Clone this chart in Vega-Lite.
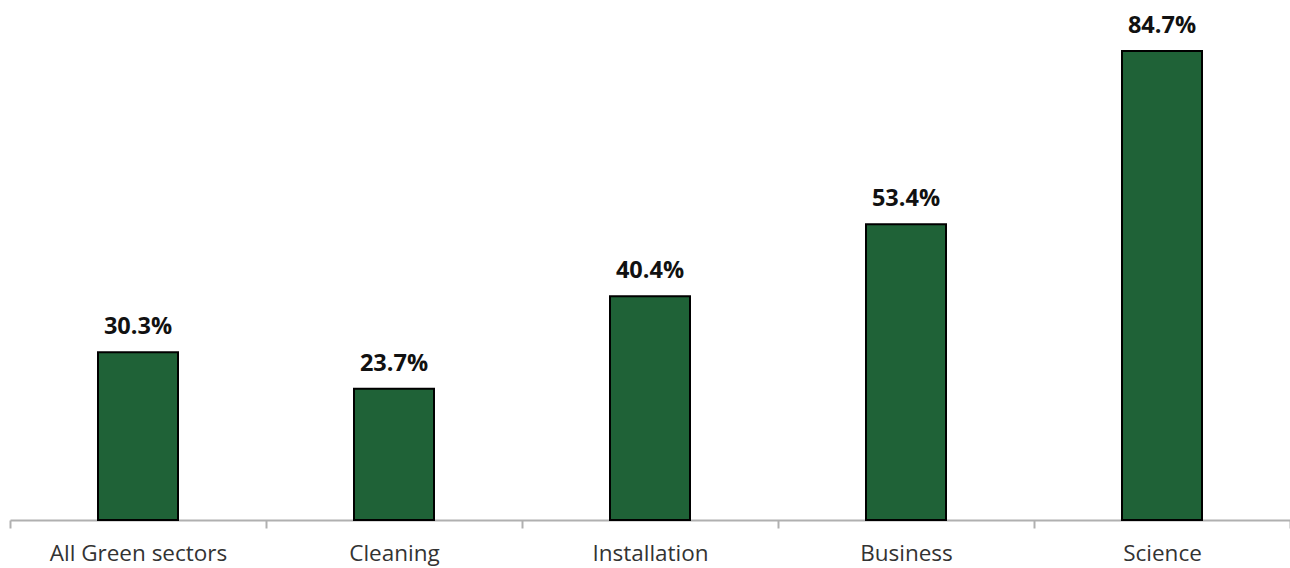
{
  "$schema": "https://vega.github.io/schema/vega-lite/v6.json",
  "width": 1280,
  "height": 520,
  "autosize": {"type": "none"},
  "padding": {"left": 10, "top": 0, "right": 0, "bottom": 48},
  "background": "white",
  "config": {"view": {"stroke": null}},
  "data": {"values": [
    {"sector": "All Green sectors", "value": 30.3, "label": "30.3%"},
    {"sector": "Cleaning", "value": 23.7, "label": "23.7%"},
    {"sector": "Installation", "value": 40.4, "label": "40.4%"},
    {"sector": "Business", "value": 53.4, "label": "53.4%"},
    {"sector": "Science", "value": 84.7, "label": "84.7%"}
  ]},
  "encoding": {
    "x": {"field": "sector", "type": "nominal", "sort": null,
      "scale": {"paddingInner": 0, "paddingOuter": 0},
      "axis": {"title": null, "labelAngle": 0, "labelFont": "Open Sans", "labelFontSize": 22.5, "labelColor": "#333333", "labelPadding": 14,
        "domainColor": "#B0B0B0", "domainWidth": 2, "tickColor": "#B0B0B0", "tickWidth": 2, "tickSize": 8, "tickBand": "extent"}},
    "y": {"field": "value", "type": "quantitative", "scale": {"domain": [0, 93.9]}, "axis": null}
  },
  "layer": [
    {"mark": {"type": "bar", "width": {"band": 0.3125}, "color": "#1F6237", "stroke": "#000000", "strokeWidth": 2}},
    {"mark": {"type": "text", "baseline": "bottom", "dy": -13, "font": "Open Sans", "fontWeight": "bold", "fontSize": 23.5, "color": "#111111"},
     "encoding": {"text": {"field": "label", "type": "nominal"}}}
  ]
}
